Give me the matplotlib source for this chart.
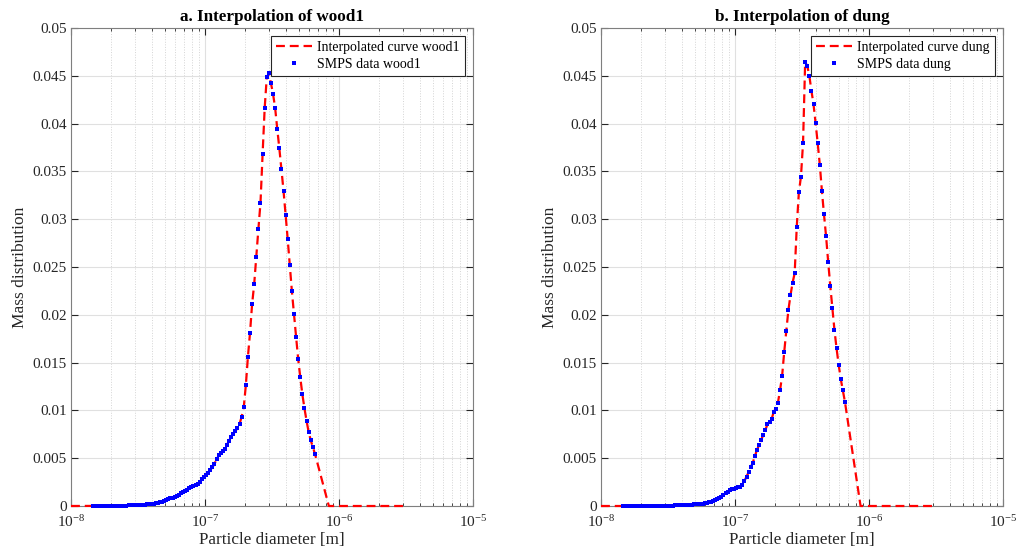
import numpy as np
import matplotlib
matplotlib.use('Agg')
import matplotlib.pyplot as plt
from matplotlib.ticker import LogLocator, FixedLocator, NullFormatter

plt.rcParams['font.family'] = ['Liberation Serif', 'DejaVu Serif']
plt.rcParams['mathtext.fontset'] = 'stix'

# SMPS channel diameters (nm), shared by both samples
diameter_nm = [
    14.6, 15.1, 15.7, 16.3, 16.8, 17.5, 18.1, 18.8, 19.5, 20.2, 20.9, 21.7,
    22.5, 23.3, 24.1, 25.0, 25.9, 26.9, 27.9, 28.9, 30.0, 31.1, 32.2, 33.4,
    34.6, 35.9, 37.2, 38.5, 40.0, 41.4, 42.9, 44.5, 46.1, 47.8, 49.6, 51.4,
    53.3, 55.2, 57.3, 59.4, 61.5, 63.8, 66.1, 68.5, 71.0, 73.7, 76.4, 79.1,
    82.0, 85.1, 88.2, 91.4, 94.7, 98.2, 101.8, 105.5, 109.4, 113.4, 117.6,
    121.9, 126.3, 131.0, 135.8, 140.7, 145.9, 151.2, 156.8, 162.5, 168.5,
    174.7, 181.1, 187.7, 194.6, 201.7, 209.1, 216.7, 224.7, 232.9, 241.4,
    250.3, 259.5, 269.0, 278.8, 289.0, 299.6, 310.6, 322.0, 333.8, 346.0,
    358.7, 371.8, 385.4, 399.5, 414.2, 429.4, 445.1, 461.4, 478.3, 495.8,
    514.0, 532.8, 552.3, 572.5, 593.5, 615.3, 637.8, 661.2,
]

wood1_mass = [
    0.00001, 0.00001, 0.00001, 0.00001, 0.00001, 0.00002, 0.00002, 0.00002,
    0.00002, 0.00002, 0.00003, 0.00003, 0.00003, 0.00004, 0.00004, 0.00005,
    0.00005, 0.00006, 0.00007, 0.00008, 0.00009, 0.00010, 0.00011, 0.00012,
    0.00014, 0.00015, 0.00017, 0.00019, 0.00022, 0.00025, 0.00029, 0.00034,
    0.00040, 0.00046, 0.00054, 0.00062, 0.00070, 0.00079, 0.00088, 0.00097,
    0.00106, 0.00118, 0.00131, 0.00144, 0.00158, 0.00172, 0.00185, 0.00196,
    0.00205, 0.00216, 0.00230, 0.00254, 0.00282, 0.00307, 0.00324, 0.00345,
    0.00377, 0.00404, 0.00439, 0.00488, 0.00533, 0.00554, 0.00575, 0.00596,
    0.00641, 0.00683, 0.00725, 0.00753, 0.00785, 0.00813, 0.00858, 0.00934,
    0.01032, 0.01262, 0.01562, 0.01810, 0.02113, 0.02322, 0.02608, 0.02897,
    0.03173, 0.03679, 0.04160, 0.04484, 0.04526, 0.04422, 0.04310, 0.04163,
    0.03947, 0.03741, 0.03522, 0.03298, 0.03047, 0.02790, 0.02518, 0.02246,
    0.02008, 0.01771, 0.01538, 0.01346, 0.01168, 0.01022, 0.00892, 0.00774,
    0.00687, 0.00617, 0.00547,
]

dung_mass = [
    0.00000, 0.00000, 0.00001, 0.00001, 0.00001, 0.00001, 0.00001, 0.00001,
    0.00001, 0.00001, 0.00002, 0.00002, 0.00002, 0.00002, 0.00002, 0.00003,
    0.00003, 0.00003, 0.00003, 0.00004, 0.00004, 0.00004, 0.00005, 0.00005,
    0.00005, 0.00006, 0.00006, 0.00007, 0.00008, 0.00009, 0.00010, 0.00011,
    0.00012, 0.00014, 0.00016, 0.00018, 0.00020, 0.00023, 0.00026, 0.00030,
    0.00035, 0.00040, 0.00046, 0.00054, 0.00063, 0.00073, 0.00085, 0.00098,
    0.00115, 0.00133, 0.00150, 0.00165, 0.00173, 0.00179, 0.00188, 0.00195,
    0.00203, 0.00220, 0.00262, 0.00307, 0.00353, 0.00405, 0.00453, 0.00523,
    0.00586, 0.00638, 0.00690, 0.00743, 0.00795, 0.00855, 0.00875, 0.00910,
    0.00986, 0.01018, 0.01080, 0.01210, 0.01360, 0.01610, 0.01830, 0.02050,
    0.02204, 0.02336, 0.02434, 0.02922, 0.03281, 0.03445, 0.03800, 0.04641,
    0.04606, 0.04501, 0.04344, 0.04202, 0.04006, 0.03794, 0.03570, 0.03298,
    0.03051, 0.02821, 0.02555, 0.02304, 0.02071, 0.01841, 0.01650, 0.01480,
    0.01330, 0.01210, 0.01090,
]

# extra nodes of the interpolated curve (nm): start, point where it hits zero, end
interp_start_nm = 10.0
wood1_zero_nm = 840.0
dung_zero_nm = 865.0
interp_end_nm = 3000.0

panels = [
    ('a. Interpolation of wood1', 'wood1', wood1_mass, wood1_zero_nm),
    ('b. Interpolation of dung', 'dung', dung_mass, dung_zero_nm),
]

fig = plt.figure(figsize=(10.18, 5.58), dpi=100)
lefts = [71 / 1018, 601 / 1018]
grey = '#262626'

for left, (title, name, mass, zero_nm) in zip(lefts, panels):
    ax = fig.add_axes([left, 52 / 558, 402 / 1018, 478 / 558])
    d = np.array(diameter_nm) * 1e-9
    curve_x = np.concatenate([[interp_start_nm * 1e-9], d, [zero_nm * 1e-9, interp_end_nm * 1e-9]])
    curve_y = np.concatenate([[0.0], mass, [0.0, 0.0]])

    ax.plot(curve_x, curve_y, color='red', lw=1.6, dashes=(4, 2.2),
            label='Interpolated curve ' + name, clip_on=False, zorder=3)
    ax.plot(d, mass, 's', color='blue', ms=2.8, mew=0,
            label='SMPS data ' + name, clip_on=False, zorder=4)

    ax.set_xscale('log')
    ax.set_xlim(1e-8, 1e-5)
    ax.set_ylim(0, 0.05)
    ax.xaxis.set_major_locator(FixedLocator([1e-8, 1e-7, 1e-6, 1e-5]))
    ax.xaxis.set_minor_locator(LogLocator(base=10, subs=np.arange(2, 10)))
    ax.xaxis.set_minor_formatter(NullFormatter())
    yt = np.round(np.arange(0, 0.0501, 0.005), 3)
    ax.set_yticks(yt)
    ax.set_yticklabels([f'{v:g}' for v in yt])

    ax.grid(True, which='major', color='#e0e0e0', lw=0.8)
    ax.grid(True, which='minor', axis='x', color='#d4d4d4', lw=0.7, ls=':')
    ax.set_axisbelow(True)
    ax.tick_params(which='both', direction='in', top=True, right=True,
                   colors=grey, labelsize=11)
    ax.tick_params(which='major', length=5)
    ax.tick_params(which='minor', length=2.5)
    ax.tick_params(axis='y', pad=3)
    ax.tick_params(axis='x', pad=6)
    for sp in ax.spines.values():
        sp.set_color('#7f7f7f')
        sp.set_linewidth(0.8)

    ax.set_title(title, fontsize=12.3, fontweight='bold', pad=5)
    ax.set_xlabel('Particle diameter [m]', fontsize=12.3, color=grey, labelpad=1)
    ax.set_ylabel('Mass distribution', fontsize=12.5, color=grey, labelpad=3)

    leg = ax.legend(loc='upper right', fontsize=10, fancybox=False,
                    edgecolor=grey, framealpha=1, handlelength=2.6,
                    borderaxespad=0.6, borderpad=0.35, labelspacing=0.25,
                    handletextpad=0.4)
    leg.get_frame().set_linewidth(0.8)

fig.savefig('out.png', dpi=100)
